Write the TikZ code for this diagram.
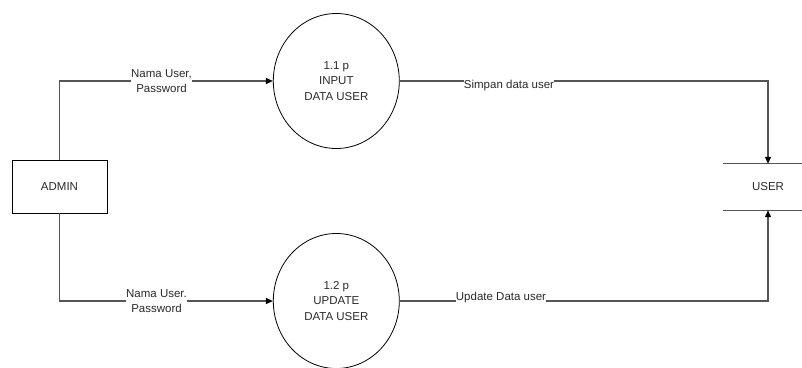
\documentclass[tikz,border=0pt]{standalone}
\usepackage{fontspec}
\setmainfont{Liberation Sans}
\usetikzlibrary{arrows.meta,shapes.geometric}
\definecolor{flowline}{HTML}{555555}
\definecolor{inktext}{HTML}{2A2A2A}
\begin{document}
\begin{tikzpicture}[x=1pt,y=-1pt,
  every node/.style={font=\fontsize{11.5}{15.5}\selectfont, text=inktext},
  entity/.style={draw=black, line width=0.8pt, minimum width=95pt, minimum height=53pt, inner sep=0pt},
  process/.style={draw=black, line width=0.8pt, ellipse, minimum width=126pt, minimum height=135pt, inner sep=0pt, align=center},
  store/.style={minimum width=90pt, minimum height=46pt, inner sep=0pt},
  flow/.style={draw=flowline, line width=1.1pt, -{Triangle[length=7pt,width=6pt,color=black]}},
  flowlabel/.style={fill=white, inner xsep=0pt, inner ysep=1pt, align=center}]
\useasboundingbox (0,0) rectangle (802,367);
\clip (0,0) rectangle (802,367);

% external entity, processes and data store
\node[entity] (admin) at (59.5,186.5) {ADMIN};
\node[process] (p1) at (336.3,81) {1.1 p\\INPUT\\DATA USER};
\node[process] (p2) at (336.3,301) {1.2 p\\UPDATE\\DATA USER};
\node[store] (user) at (768,187) {USER};
\draw[flowline, line width=1.1pt] ([xshift=-45pt]user.north) -- ([xshift=45pt]user.north);
\draw[flowline, line width=1.1pt] ([xshift=-45pt]user.south) -- ([xshift=45pt]user.south);

% data flows
\draw[flow] (admin.north) |- (p1.west);
\draw[flow] (admin.south) |- (p2.west);
\draw[flow] (p1.east) -| (user.north);
\draw[flow] (p2.east) -| (user.south);

% flow labels
\node[flowlabel] (l1) at (161.5,81) {Nama User,\\Password};
\node[flowlabel] (l2) at (156.5,301) {Nama User.\\Password};
\node[flowlabel] (l3) at (509,85.5) {Simpan data user};
\node[flowlabel] (l4) at (501,297.5) {Update Data user};
\end{tikzpicture}
\end{document}
